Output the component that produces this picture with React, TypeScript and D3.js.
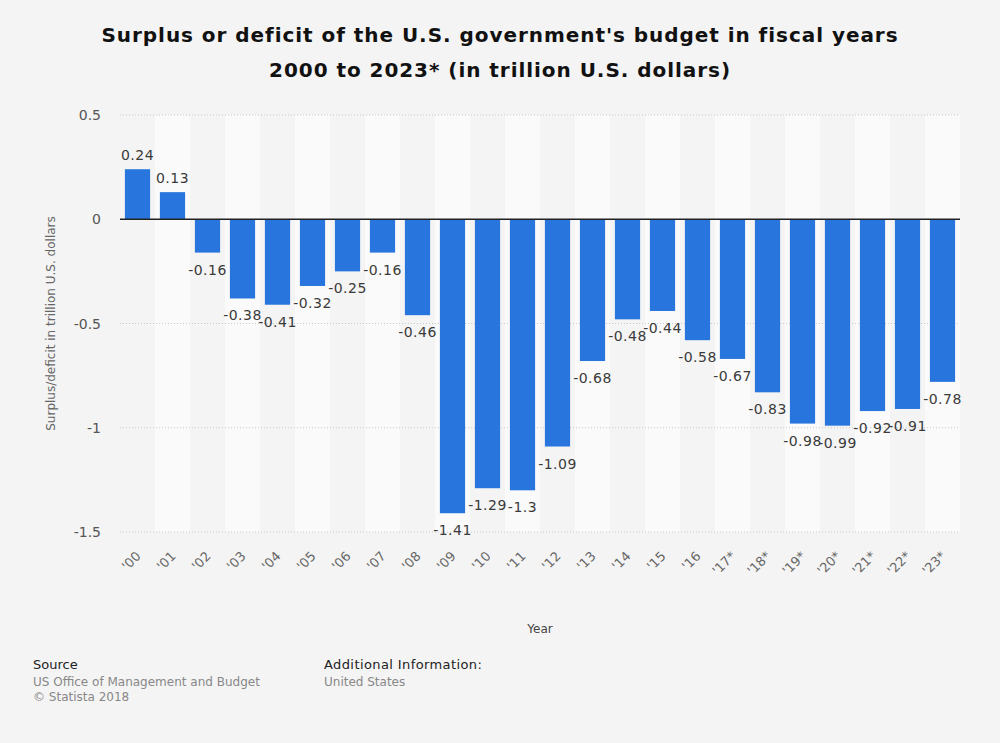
import React from "react";
import * as d3 from "d3";

const categories = ["'00","'01","'02","'03","'04","'05","'06","'07","'08","'09","'10","'11","'12","'13","'14","'15","'16","'17*","'18*","'19*","'20*","'21*","'22*","'23*"];
const values = [0.24,0.13,-0.16,-0.38,-0.41,-0.32,-0.25,-0.16,-0.46,-1.41,-1.29,-1.3,-1.09,-0.68,-0.48,-0.44,-0.58,-0.67,-0.83,-0.98,-0.99,-0.92,-0.91,-0.78];
const yTicks = [0.5, 0, -0.5, -1, -1.5];
const titleLines = ["Surplus or deficit of the U.S. government's budget in fiscal years", "2000 to 2023* (in trillion U.S. dollars)"];

const W = 1000, H = 743;
const left = 120, right = 960, top = 115, bottom = 532;
const FONT = "'DejaVu Sans', sans-serif";

export default function App() {
  const x = d3.scaleBand<string>().domain(categories).range([left, right]).paddingInner(0.28).paddingOuter(0.14);
  const xb = d3.scaleBand<string>().domain(categories).range([left, right]);
  const y = d3.scaleLinear().domain([-1.5, 0.5]).range([bottom, top]);
  const fmt = (v: number) => String(v);
  const yfmt = (v: number) => (v === 0 ? "0" : String(v));
  return (
    <svg width={W} height={H} style={{ position: "absolute", left: 0, top: 0, fontFamily: FONT }}>
      <rect x={0} y={0} width={W} height={H} fill="#f4f4f4" />
      {titleLines.map((t, i) => (
        <text key={i} x={500} y={42 + i * 35} textAnchor="middle" fontSize={20} fontWeight="bold" fill="#111" letterSpacing={0.95}>{t}</text>
      ))}
      {categories.map((c, i) => (
        <rect key={c} x={xb(c)} y={top} width={xb.bandwidth()} height={bottom - top} fill={i % 2 === 1 ? "#fafafa" : "#f4f4f4"} />
      ))}
      {yTicks.filter(t => t !== 0).map(t => (
        <line key={t} x1={left} x2={right} y1={y(t)} y2={y(t)} stroke="#c8c8c8" strokeWidth={1} strokeDasharray="1,2" />
      ))}
      {yTicks.map(t => (
        <text key={t} x={101} y={y(t) + 5} textAnchor="end" fontSize={14} fill="#555">{yfmt(t)}</text>
      ))}
      <text transform={`translate(55,${(top + bottom) / 2}) rotate(-90)`} textAnchor="middle" fontSize={12} fill="#666">Surplus/deficit in trillion U.S. dollars</text>
      {categories.map((c, i) => {
        const v = values[i];
        return (
          <rect key={c} x={x(c)} y={Math.min(y(v), y(0))} width={x.bandwidth()} height={Math.abs(y(v) - y(0))} fill="#2876dd" />
        );
      })}
      <line x1={left} x2={right} y1={y(0)} y2={y(0)} stroke="#222" strokeWidth={1.5} />
      {categories.map((c, i) => {
        const v = values[i];
        const cx = (x(c) as number) + x.bandwidth() / 2;
        return (
          <text key={c} x={cx} y={v >= 0 ? y(v) - 9 : y(v) + 22} textAnchor="middle" fontSize={14} fill="#3a3a3a" letterSpacing={0.5}>{fmt(v)}</text>
        );
      })}
      {categories.map(c => {
        const cx = (xb(c) as number) + xb.bandwidth() / 2 + 4;
        return (
          <text key={c} transform={`translate(${cx},${557}) rotate(-45)`} textAnchor="end" fontSize={13} fill="#666">{c}</text>
        );
      })}
      <text x={540} y={633} textAnchor="middle" fontSize={12} fill="#444">Year</text>
      <text x={33} y={669} fontSize={13} fill="#222">Source</text>
      <text x={33} y={686} fontSize={12} fill="#888">US Office of Management and Budget</text>
      <text x={33} y={701} fontSize={12} fill="#888">© Statista 2018</text>
      <text x={324} y={669} fontSize={13} fill="#222" letterSpacing={0.4}>Additional Information:</text>
      <text x={324} y={686} fontSize={12} fill="#888">United States</text>
    </svg>
  );
}
